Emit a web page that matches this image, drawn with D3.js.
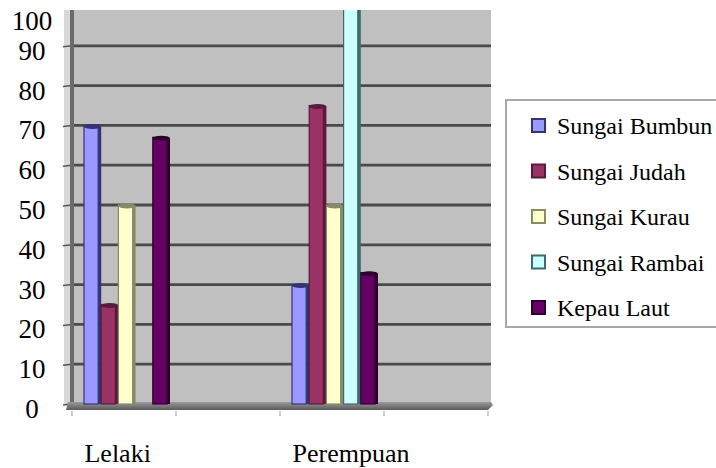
<!DOCTYPE html>
<html>
<head>
<meta charset="utf-8">
<script src="https://cdn.jsdelivr.net/npm/d3@7/dist/d3.min.js"></script>
<style>
  html, body { margin: 0; padding: 0; background: #fff; }
  svg { display: block; font-family: "Liberation Serif", "Times New Roman", serif; }
</style>
</head>
<body>
<svg id="chart" width="716" height="468"></svg>
<script>
// ---- data ----
const categories = ["Lelaki", "Perempuan"];
const seriesNames = ["Sungai Bumbun", "Sungai Judah", "Sungai Kurau", "Sungai Rambai", "Kepau Laut"];
const sungaiBumbun = [70, 30];
const sungaiJudah  = [25, 75];
const sungaiKurau  = [50, 50];
const sungaiRambai = [null, 100];
const kepauLaut    = [67, 33];
const yTicks = [0, 10, 20, 30, 40, 50, 60, 70, 80, 90, 100];
const seriesFill = ["#9999FF", "#993366", "#FFFFCC", "#CCFFFF", "#660066"];
const seriesEdge = ["#333377", "#5a1a3a", "#8a8a6a", "#3d6b6b", "#2e002e"];

const seriesValues = [sungaiBumbun, sungaiJudah, sungaiKurau, sungaiRambai, kepauLaut];

// ---- layout ----
const svg = d3.select("#chart");
const wallLeft = 72, wallRight = 491, wallTop = 10, floorY = 404;

const y = d3.scaleLinear().domain([0, 100]).range([floorY, 6]);
// 4 slots on the category axis; categories occupy every other slot
const slotX = d3.scaleBand().domain(d3.range(categories.length * 2)).range([72, 488]).paddingInner(0).paddingOuter(0);
const bw = slotX.bandwidth();
const seriesX = d3.scaleBand().domain(d3.range(seriesNames.length)).range([12, 12 + 86]);

const defs = svg.append("defs");
defs.append("clipPath").attr("id", "wallclip")
  .append("rect").attr("x", 0).attr("y", wallTop).attr("width", 716).attr("height", 468 - wallTop);

const grad = defs.append("linearGradient").attr("id", "floorGrad")
  .attr("x1", 0).attr("y1", 0).attr("x2", 0).attr("y2", 1);
grad.append("stop").attr("offset", "0%").attr("stop-color", "#9a9a9a");
grad.append("stop").attr("offset", "100%").attr("stop-color", "#5a5a5a");

// side wall strip (3D left)
svg.append("rect").attr("x", 64).attr("y", wallTop).attr("width", wallLeft - 64).attr("height", floorY - wallTop)
  .attr("fill", "#d8d8d8");

// back wall
svg.append("rect").attr("x", wallLeft).attr("y", wallTop)
  .attr("width", wallRight - wallLeft).attr("height", floorY - wallTop)
  .attr("fill", "#C0C0C0");

// gridlines
const gridG = svg.append("g").attr("clip-path", "url(#wallclip)");
gridG.selectAll("line.grid").data(yTicks.filter(d => d > 0)).join("line")
  .attr("class", "grid")
  .attr("x1", wallLeft).attr("x2", wallRight)
  .attr("y1", d => y(d)).attr("y2", d => y(d))
  .attr("stroke", "#4a4a4a").attr("stroke-width", 2.8);
gridG.selectAll("line.sidetick").data(yTicks).join("line")
  .attr("class", "sidetick")
  .attr("x1", 63).attr("x2", wallLeft)
  .attr("y1", d => y(d) + 1).attr("y2", d => y(d))
  .attr("stroke", "#555").attr("stroke-width", 1.5);

// left wall edge
svg.append("line").attr("x1", wallLeft).attr("x2", wallLeft).attr("y1", wallTop).attr("y2", floorY + 4)
  .attr("stroke", "#6a6a6a").attr("stroke-width", 4);

// floor
svg.append("path")
  .attr("d", `M${wallLeft - 4},${floorY - 2} L${wallRight},${floorY - 2} L${wallRight + 2},${floorY + 1} L${wallRight - 3},${floorY + 6} L${wallLeft - 6},${floorY + 6} Z`)
  .attr("fill", "url(#floorGrad)");

// category axis ticks
svg.selectAll("line.xtick").data(d3.range(categories.length * 2 + 1)).join("line")
  .attr("class", "xtick")
  .attr("x1", d => 72 + d * bw).attr("x2", d => 72 + d * bw)
  .attr("y1", floorY + 7).attr("y2", floorY + 12)
  .attr("stroke", "#999").attr("stroke-width", 1);

// bars
const barsG = svg.append("g").attr("clip-path", "url(#wallclip)");
const barData = [];
categories.forEach((c, ci) => {
  seriesNames.forEach((s, si) => {
    const v = seriesValues[si][ci];
    if (v !== null && v !== undefined) barData.push({ ci, si, v });
  });
});
const w = seriesX.bandwidth();
const bar = barsG.selectAll("g.bar").data(barData).join("g").attr("class", "bar");
bar.append("rect")
  .attr("x", d => slotX(d.ci * 2) + seriesX(d.si))
  .attr("y", d => y(d.v))
  .attr("width", w - 3)
  .attr("height", d => y(0) - y(d.v))
  .attr("fill", d => seriesFill[d.si])
  .attr("stroke", d => seriesEdge[d.si]).attr("stroke-width", 1.2);
bar.append("rect")
  .attr("x", d => slotX(d.ci * 2) + seriesX(d.si) + w - 3)
  .attr("y", d => y(d.v) + 1)
  .attr("width", 3)
  .attr("height", d => y(0) - y(d.v) - 1)
  .attr("fill", d => seriesEdge[d.si]);
bar.append("ellipse")
  .attr("cx", d => slotX(d.ci * 2) + seriesX(d.si) + w / 2)
  .attr("cy", d => y(d.v) + 1)
  .attr("rx", w / 2).attr("ry", 2.5)
  .attr("fill", d => seriesEdge[d.si]);

// y-axis labels
svg.selectAll("text.ylab").data(yTicks).join("text")
  .attr("class", "ylab")
  .attr("x", 32)
  .attr("y", d => Math.max(y(d) + 5, 21))
  .attr("text-anchor", "middle")
  .attr("dominant-baseline", "central")
  .attr("font-size", 27)
  .attr("fill", "#000")
  .text(d => d);

// category labels
svg.selectAll("text.xlab").data(categories).join("text")
  .attr("class", "xlab")
  .attr("x", (d, i) => slotX(i * 2) + bw * 0.12)
  .attr("y", 462)
  .attr("font-size", 26)
  .attr("fill", "#000")
  .text(d => d);

// legend
const legend = svg.append("g");
legend.append("rect").attr("x", 506).attr("y", 100).attr("width", 230).attr("height", 227)
  .attr("fill", "#fff").attr("stroke", "#a8a8a8").attr("stroke-width", 2);
const rowY = d3.scalePoint().domain(d3.range(seriesNames.length)).range([126, 308]);
const item = legend.selectAll("g.item").data(seriesNames).join("g").attr("class", "item")
  .attr("transform", (d, i) => `translate(0,${rowY(i)})`);
item.append("rect").attr("x", 532).attr("y", -7).attr("width", 13).attr("height", 13)
  .attr("fill", (d, i) => seriesFill[i]).attr("stroke", (d, i) => seriesEdge[i]).attr("stroke-width", 2);
item.append("text")
  .attr("x", 557)
  .attr("dominant-baseline", "central")
  .attr("font-size", 24)
  .attr("fill", "#000")
  .text(d => d);
</script>
</body>
</html>
